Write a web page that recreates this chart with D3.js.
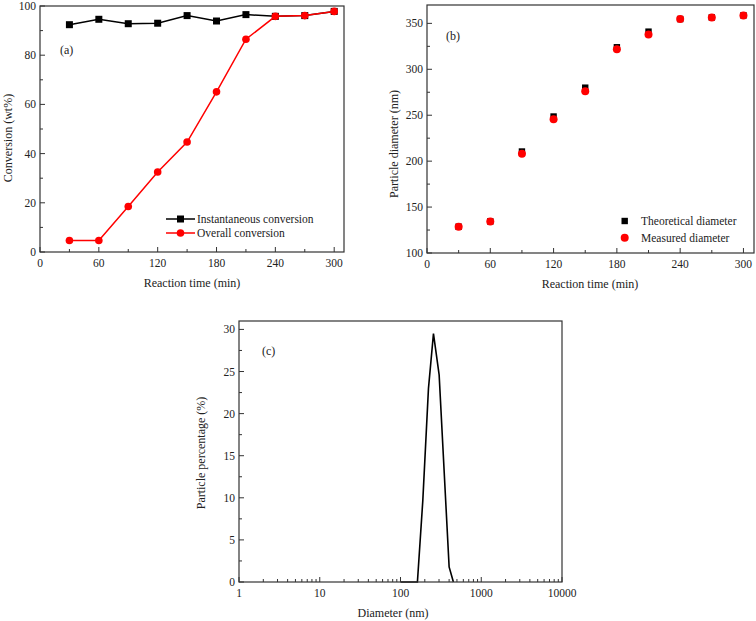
<!DOCTYPE html>
<html><head><meta charset="utf-8">
<script src="https://cdn.jsdelivr.net/npm/d3@7/dist/d3.min.js"></script>
<style>body{margin:0;background:#fff}svg{display:block}</style>
</head><body>
<svg id="c" width="756" height="621"></svg>
<script>
// Panel (a)
const timeA = [30,60,90,120,150,180,210,240,270,300];
const instantConv = [92.4,94.6,92.8,93.0,96.1,93.9,96.5,95.8,96.1,97.8];
const overallConv = [4.7,4.7,18.5,32.5,44.7,65.1,86.5,95.8,96.1,97.8];
const xTicksA = [0,60,120,180,240,300];
const yTicksA = [0,20,40,60,80,100];
// Panel (b)
const timeB = [30,60,90,120,150,180,210,240,270,300];
const theoDiam = [128.6,134.4,210.5,248.6,280,324,341,354.7,356.5,358.7];
const measDiam = [128.6,134.4,208,245.7,276,321.7,338,354.7,356.5,358.7];
const yTicksB = [100,150,200,250,300,350];
// Panel (c)
const diam = [100,162,189,222,256,301,400,452];
const pct = [0,0,9.7,23.0,29.5,24.6,1.8,0];
const xTicksC = [1,10,100,1000,10000];
const yTicksC = [0,5,10,15,20,25,30];

const svg = d3.select("#c");
const AX = "#333";
const FF = '"Liberation Serif","Tinos","Times New Roman","DejaVu Serif",serif';

function txt(g){ return g.append("text").attr("font-family",FF).attr("fill","#222"); }
function frame(g, x0, x1, y0, y1){
  g.append("rect").attr("x",x0).attr("y",y0).attr("width",x1-x0).attr("height",y1-y0)
   .attr("fill","none").attr("stroke",AX).attr("stroke-width",1.2);
}
function xTicks(g, sx, major, minor, y1){
  minor.forEach(v=>g.append("line").attr("x1",sx(v)).attr("x2",sx(v)).attr("y1",y1).attr("y2",y1-3).attr("stroke",AX));
  major.forEach(v=>{
    g.append("line").attr("x1",sx(v)).attr("x2",sx(v)).attr("y1",y1).attr("y2",y1-5).attr("stroke",AX);
    txt(g).attr("x",sx(v)).attr("y",y1+15).attr("text-anchor","middle").attr("font-size",11.5).text(v);
  });
}
function yTicks(g, sy, major, minor, x0){
  minor.forEach(v=>g.append("line").attr("x1",x0).attr("x2",x0+3).attr("y1",sy(v)).attr("y2",sy(v)).attr("stroke",AX));
  major.forEach(v=>{
    g.append("line").attr("x1",x0).attr("x2",x0+5).attr("y1",sy(v)).attr("y2",sy(v)).attr("stroke",AX);
    txt(g).attr("x",x0-4).attr("y",sy(v)+4).attr("text-anchor","end").attr("font-size",11.5).text(v);
  });
}
function yTitle(g, x, y, t){
  txt(g).attr("transform",`translate(${x},${y}) rotate(-90)`).attr("text-anchor","middle").attr("font-size",12).text(t);
}

// ---------- (a)
{
  const g = svg.append("g");
  const x = d3.scaleLinear().domain([0,310]).range([40,344]);
  const y = d3.scaleLinear().domain([0,100]).range([252,6]);
  const line = d3.line().x((d,i)=>x(timeA[i])).y(d=>y(d));
  g.append("path").attr("d",line(instantConv)).attr("fill","none").attr("stroke","#000").attr("stroke-width",1.5);
  g.selectAll(null).data(instantConv).join("rect").attr("x",(d,i)=>x(timeA[i])-3.5).attr("y",d=>y(d)-3.5).attr("width",7).attr("height",7).attr("fill","#000");
  g.append("path").attr("d",line(overallConv)).attr("fill","none").attr("stroke","#f00").attr("stroke-width",1.5);
  g.selectAll(null).data(overallConv).join("circle").attr("cx",(d,i)=>x(timeA[i])).attr("cy",d=>y(d)).attr("r",3.8).attr("fill","#f00");
  frame(g,40,344,6,252);
  xTicks(g,x,xTicksA,[30,90,150,210,270],252);
  yTicks(g,y,yTicksA,[10,30,50,70,90],40);
  txt(g).attr("x",60).attr("y",54).attr("font-size",12).text("(a)");
  txt(g).attr("x",192).attr("y",287).attr("text-anchor","middle").attr("font-size",12).text("Reaction time (min)");
  yTitle(g,12,138,"Conversion (wt%)");
  const L=[["Instantaneous conversion","#000","rect",219],["Overall conversion","#f00","circle",233]];
  L.forEach(([t,c,s,yy])=>{
    g.append("line").attr("x1",166).attr("x2",195).attr("y1",yy).attr("y2",yy).attr("stroke",c).attr("stroke-width",1.5);
    if(s==="rect") g.append("rect").attr("x",177).attr("y",yy-3.5).attr("width",7).attr("height",7).attr("fill",c);
    else g.append("circle").attr("cx",180.5).attr("cy",yy).attr("r",3.8).attr("fill",c);
    txt(g).attr("x",197).attr("y",yy+4).attr("font-size",11.5).text(t);
  });
}

// ---------- (b)
{
  const g = svg.append("g");
  const x = d3.scaleLinear().domain([0,310]).range([427,754]);
  const y = d3.scaleLinear().domain([100,370]).range([253,5]);
  g.selectAll(null).data(theoDiam).join("rect").attr("x",(d,i)=>x(timeB[i])-3.2).attr("y",d=>y(d)-3.2).attr("width",6.4).attr("height",6.4).attr("fill","#000");
  g.selectAll(null).data(measDiam).join("circle").attr("cx",(d,i)=>x(timeB[i])).attr("cy",d=>y(d)).attr("r",4).attr("fill","#f00");
  frame(g,427,754,5,253);
  xTicks(g,x,xTicksA,[30,90,150,210,270],253);
  yTicks(g,y,yTicksB,[125,175,225,275,325],427);
  txt(g).attr("x",446).attr("y",40).attr("font-size",12).text("(b)");
  txt(g).attr("x",590).attr("y",288).attr("text-anchor","middle").attr("font-size",12).text("Reaction time (min)");
  yTitle(g,398,144,"Particle diameter (nm)");
  g.append("rect").attr("x",621.5).attr("y",217.8).attr("width",6.4).attr("height",6.4).attr("fill","#000");
  txt(g).attr("x",641).attr("y",225).attr("font-size",11.5).text("Theoretical diameter");
  g.append("circle").attr("cx",624.7).attr("cy",237.7).attr("r",4).attr("fill","#f00");
  txt(g).attr("x",641).attr("y",242).attr("font-size",11.5).text("Measured diameter");
}

// ---------- (c)
{
  const g = svg.append("g");
  const x = d3.scaleLog().domain([1,10000]).range([239,562]);
  const y = d3.scaleLinear().domain([0,31]).range([582,321]);
  const line = d3.line().x((d,i)=>x(diam[i])).y(d=>y(d));
  g.append("path").attr("d",line(pct)).attr("fill","none").attr("stroke","#000").attr("stroke-width",1.6);
  frame(g,239,562,321,582);
  const minor=[];
  for(let e=0;e<4;e++) for(let k=2;k<10;k++) minor.push(k*Math.pow(10,e));
  xTicks(g,x,xTicksC,minor,582);
  yTicks(g,y,yTicksC,[2.5,7.5,12.5,17.5,22.5,27.5],239);
  txt(g).attr("x",262).attr("y",355).attr("font-size",12).text("(c)");
  txt(g).attr("x",393).attr("y",617).attr("text-anchor","middle").attr("font-size",12).text("Diameter (nm)");
  yTitle(g,205,453,"Particle percentage (%)");
}
</script>
</body></html>
